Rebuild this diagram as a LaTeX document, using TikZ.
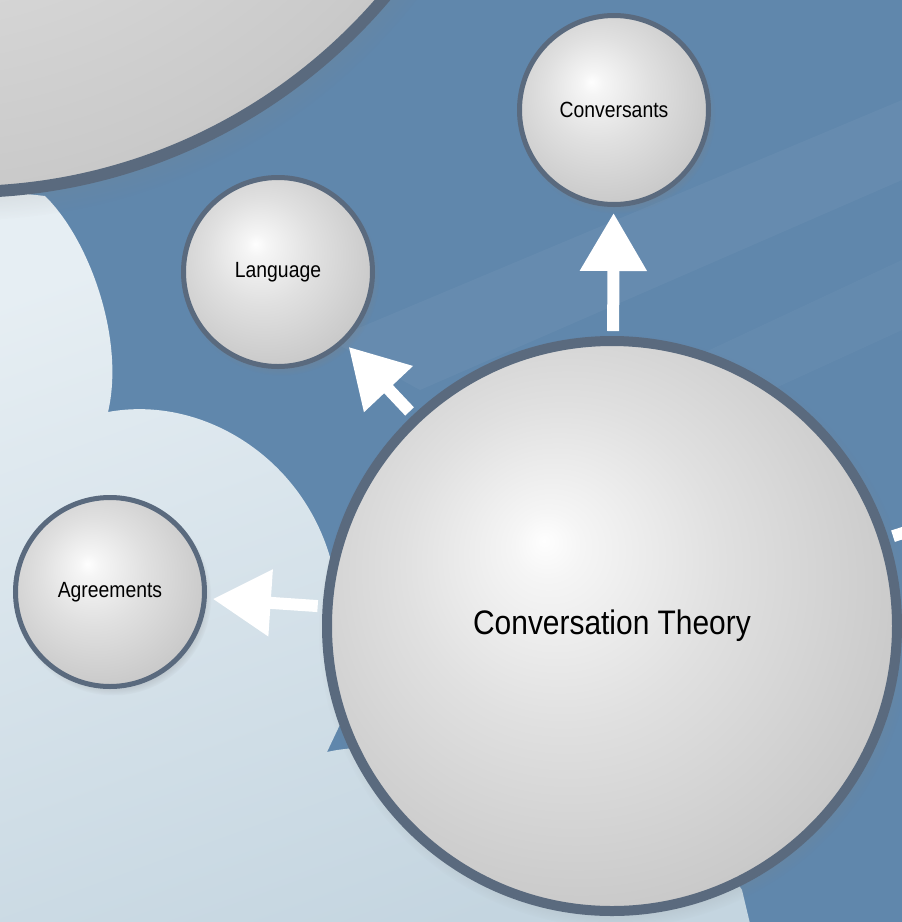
\documentclass[tikz,border=0pt]{standalone}
\usepackage{fontspec}
\setmainfont{Liberation Sans}
\usepackage{graphicx}
\usetikzlibrary{arrows.meta,shadows}

\definecolor{bgblue}{RGB}{96,135,172}
\definecolor{cloudhi}{RGB}{230,238,243}
\definecolor{cloudlo}{RGB}{196,213,224}
\definecolor{rim}{RGB}{90,106,126}
\definecolor{ballhi}{RGB}{254,254,254}
\definecolor{ballmid}{RGB}{224,224,224}
\definecolor{balllo}{RGB}{180,180,180}

\pgfdeclareradialshading{sphere}{\pgfpoint{-6bp}{7.5bp}}{color(0bp)=(ballhi); color(3bp)=(ballhi!70!ballmid); color(14bp)=(ballmid); color(28bp)=(balllo!50!ballmid); color(36bp)=(balllo); color(50bp)=(balllo)}

\newcommand{\squeeze}[1]{\scalebox{0.88}[1]{#1}}

\tikzset{
  bubble/.style={circle, draw=rim, line width=5pt, shading=sphere, minimum size=189pt, inner sep=0pt,
    circular drop shadow={shadow xshift=3pt, shadow yshift=-5pt, shadow scale=1.04, opacity=.45},
    font=\fontsize{22}{26}\selectfont},
  hub/.style={bubble, line width=10pt, minimum size=570pt, font=\fontsize{34}{40}\selectfont},
  link/.style={white, line width=12pt, -{Triangle[width=64pt,length=58pt]}, shorten <=5pt, shorten >=6pt}
}

\begin{document}
\begin{tikzpicture}[x=1pt,y=-1pt]
  \useasboundingbox (0,0) rectangle (902,922);
  \clip (0,0) rectangle (902,922);
  \fill[bgblue] (0,0) rectangle (902,922);
  \fill[white, opacity=.04] (330,340) -- (902,100) -- (902,180) -- (420,390) -- cycle;
  \fill[white, opacity=.03] (560,420) -- (902,260) -- (902,330) -- (640,450) -- cycle;
  \shade[top color=cloudhi, bottom color=cloudlo, shading angle=20]
    (-10,190) -- (45,196) .. controls (90,240) and (125,340) .. (108,412)
    .. controls (200,395) and (300,455) .. (330,557)
    -- (420,640) -- (344,716) -- (327,752)
    .. controls (420,730) and (680,790) .. (742,890) -- (752,932) -- (-10,932) -- cycle;

  \node[bubble, line width=12pt, minimum size=1104pt] (core) at (-36,-360) {};
  \node[hub] (ct) at (612,626) {\squeeze{Conversation Theory}};
  \node[bubble] (cv) at (614,110) {\squeeze{Conversants}};
  \node[bubble] (lang) at (278,272) {\squeeze{Language}};
  \node[bubble] (agr) at (110,592) {\squeeze{Agreements}};
  \coordinate (far) at (1200,438);

  \draw[link] (ct) -- (cv);
  \draw[link] (ct) -- (lang);
  \draw[link] (ct) -- (agr);
  \draw[link] (ct) -- (far);
\end{tikzpicture}
\end{document}
